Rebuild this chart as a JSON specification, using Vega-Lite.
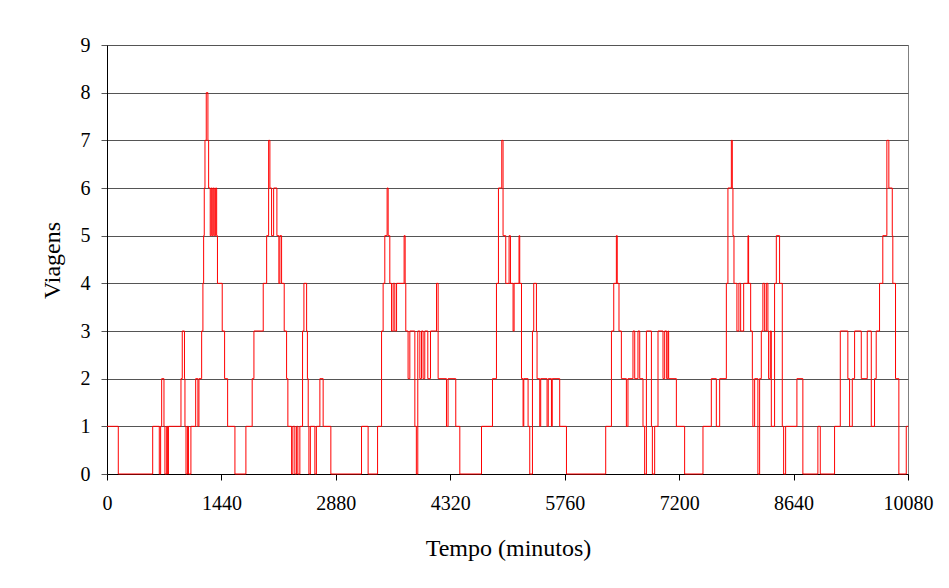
{
  "$schema": "https://vega.github.io/schema/vega-lite/v6.json",
  "autosize": "none",
  "width": 801,
  "height": 429,
  "padding": {"left": 107, "top": 45, "right": 41, "bottom": 114},
  "background": "white",
  "config": {
    "view": {"stroke": "#808080", "strokeWidth": 1},
    "axis": {
      "labelFont": "Liberation Serif",
      "titleFont": "Liberation Serif",
      "labelFontSize": 20,
      "titleFontSize": 24,
      "titleFontWeight": "normal",
      "labelColor": "black",
      "titleColor": "black",
      "domainColor": "black",
      "tickSize": 6
    }
  },
  "data": {
    "values": [
      {"t": 0, "v": 1}, {"t": 142, "v": 0}, {"t": 575, "v": 1}, {"t": 658, "v": 0}, {"t": 675, "v": 1},
      {"t": 688, "v": 2}, {"t": 717, "v": 1}, {"t": 729, "v": 0}, {"t": 751, "v": 1}, {"t": 763, "v": 0},
      {"t": 773, "v": 1}, {"t": 931, "v": 2}, {"t": 947, "v": 3}, {"t": 975, "v": 2}, {"t": 981, "v": 1},
      {"t": 994, "v": 0}, {"t": 1012, "v": 1}, {"t": 1025, "v": 0}, {"t": 1056, "v": 1}, {"t": 1116, "v": 2},
      {"t": 1144, "v": 1}, {"t": 1157, "v": 2}, {"t": 1191, "v": 3}, {"t": 1207, "v": 4}, {"t": 1216, "v": 5},
      {"t": 1224, "v": 6}, {"t": 1233, "v": 7}, {"t": 1249, "v": 8}, {"t": 1270, "v": 7}, {"t": 1279, "v": 6},
      {"t": 1299, "v": 5}, {"t": 1312, "v": 6}, {"t": 1324, "v": 5}, {"t": 1337, "v": 6}, {"t": 1350, "v": 5},
      {"t": 1367, "v": 6}, {"t": 1380, "v": 5}, {"t": 1390, "v": 4}, {"t": 1450, "v": 3}, {"t": 1480, "v": 2},
      {"t": 1518, "v": 1}, {"t": 1610, "v": 0}, {"t": 1748, "v": 1}, {"t": 1827, "v": 2}, {"t": 1849, "v": 3},
      {"t": 1966, "v": 4}, {"t": 2009, "v": 5}, {"t": 2034, "v": 7}, {"t": 2050, "v": 6}, {"t": 2071, "v": 5},
      {"t": 2097, "v": 6}, {"t": 2138, "v": 5}, {"t": 2163, "v": 4}, {"t": 2176, "v": 5}, {"t": 2197, "v": 4},
      {"t": 2230, "v": 3}, {"t": 2260, "v": 2}, {"t": 2276, "v": 1}, {"t": 2323, "v": 0}, {"t": 2339, "v": 1},
      {"t": 2364, "v": 0}, {"t": 2386, "v": 1}, {"t": 2402, "v": 0}, {"t": 2427, "v": 1}, {"t": 2461, "v": 3},
      {"t": 2478, "v": 4}, {"t": 2512, "v": 3}, {"t": 2522, "v": 2}, {"t": 2532, "v": 1}, {"t": 2541, "v": 0},
      {"t": 2559, "v": 1}, {"t": 2616, "v": 0}, {"t": 2635, "v": 1}, {"t": 2679, "v": 2}, {"t": 2720, "v": 1},
      {"t": 2817, "v": 0}, {"t": 3203, "v": 1}, {"t": 3286, "v": 0}, {"t": 3405, "v": 1}, {"t": 3455, "v": 3},
      {"t": 3475, "v": 4}, {"t": 3496, "v": 5}, {"t": 3525, "v": 6}, {"t": 3538, "v": 5}, {"t": 3559, "v": 4},
      {"t": 3581, "v": 3}, {"t": 3601, "v": 4}, {"t": 3622, "v": 3}, {"t": 3644, "v": 4}, {"t": 3739, "v": 5},
      {"t": 3752, "v": 4}, {"t": 3760, "v": 3}, {"t": 3789, "v": 2}, {"t": 3811, "v": 3}, {"t": 3874, "v": 1},
      {"t": 3893, "v": 0}, {"t": 3911, "v": 3}, {"t": 3937, "v": 2}, {"t": 3958, "v": 3}, {"t": 3978, "v": 2},
      {"t": 3999, "v": 3}, {"t": 4037, "v": 2}, {"t": 4071, "v": 3}, {"t": 4147, "v": 4}, {"t": 4167, "v": 2},
      {"t": 4272, "v": 1}, {"t": 4292, "v": 2}, {"t": 4389, "v": 1}, {"t": 4440, "v": 0}, {"t": 4713, "v": 1},
      {"t": 4851, "v": 2}, {"t": 4901, "v": 4}, {"t": 4926, "v": 6}, {"t": 4968, "v": 7}, {"t": 4984, "v": 5},
      {"t": 5018, "v": 4}, {"t": 5060, "v": 5}, {"t": 5077, "v": 4}, {"t": 5110, "v": 3}, {"t": 5123, "v": 4},
      {"t": 5185, "v": 5}, {"t": 5194, "v": 4}, {"t": 5216, "v": 2}, {"t": 5236, "v": 1}, {"t": 5245, "v": 2},
      {"t": 5299, "v": 1}, {"t": 5320, "v": 0}, {"t": 5354, "v": 3}, {"t": 5370, "v": 4}, {"t": 5404, "v": 3},
      {"t": 5412, "v": 2}, {"t": 5446, "v": 1}, {"t": 5458, "v": 2}, {"t": 5538, "v": 1}, {"t": 5553, "v": 2},
      {"t": 5593, "v": 1}, {"t": 5603, "v": 2}, {"t": 5697, "v": 1}, {"t": 5782, "v": 0}, {"t": 6276, "v": 1},
      {"t": 6348, "v": 3}, {"t": 6377, "v": 4}, {"t": 6410, "v": 5}, {"t": 6421, "v": 4}, {"t": 6443, "v": 3},
      {"t": 6473, "v": 2}, {"t": 6536, "v": 1}, {"t": 6556, "v": 2}, {"t": 6619, "v": 3}, {"t": 6641, "v": 2},
      {"t": 6682, "v": 3}, {"t": 6704, "v": 2}, {"t": 6745, "v": 1}, {"t": 6766, "v": 0}, {"t": 6788, "v": 3},
      {"t": 6851, "v": 1}, {"t": 6863, "v": 0}, {"t": 6892, "v": 1}, {"t": 6934, "v": 3}, {"t": 6997, "v": 2},
      {"t": 7018, "v": 3}, {"t": 7043, "v": 2}, {"t": 7059, "v": 3}, {"t": 7068, "v": 2}, {"t": 7165, "v": 1},
      {"t": 7269, "v": 0}, {"t": 7500, "v": 1}, {"t": 7605, "v": 2}, {"t": 7668, "v": 1}, {"t": 7710, "v": 2},
      {"t": 7794, "v": 4}, {"t": 7814, "v": 6}, {"t": 7857, "v": 7}, {"t": 7869, "v": 6}, {"t": 7877, "v": 5},
      {"t": 7890, "v": 4}, {"t": 7927, "v": 3}, {"t": 7952, "v": 4}, {"t": 7974, "v": 3}, {"t": 8012, "v": 4},
      {"t": 8066, "v": 5}, {"t": 8074, "v": 4}, {"t": 8100, "v": 3}, {"t": 8121, "v": 2}, {"t": 8128, "v": 1},
      {"t": 8150, "v": 2}, {"t": 8191, "v": 0}, {"t": 8213, "v": 2}, {"t": 8234, "v": 3}, {"t": 8254, "v": 4},
      {"t": 8276, "v": 3}, {"t": 8297, "v": 4}, {"t": 8317, "v": 3}, {"t": 8326, "v": 2}, {"t": 8347, "v": 3},
      {"t": 8360, "v": 1}, {"t": 8401, "v": 4}, {"t": 8423, "v": 5}, {"t": 8464, "v": 4}, {"t": 8498, "v": 1},
      {"t": 8515, "v": 0}, {"t": 8540, "v": 1}, {"t": 8682, "v": 2}, {"t": 8757, "v": 0}, {"t": 8946, "v": 1},
      {"t": 8976, "v": 0}, {"t": 9156, "v": 1}, {"t": 9228, "v": 3}, {"t": 9323, "v": 2}, {"t": 9345, "v": 1},
      {"t": 9379, "v": 2}, {"t": 9408, "v": 3}, {"t": 9492, "v": 2}, {"t": 9567, "v": 3}, {"t": 9618, "v": 1},
      {"t": 9659, "v": 2}, {"t": 9680, "v": 3}, {"t": 9722, "v": 4}, {"t": 9763, "v": 5}, {"t": 9814, "v": 7},
      {"t": 9839, "v": 6}, {"t": 9882, "v": 5}, {"t": 9889, "v": 4}, {"t": 9923, "v": 2}, {"t": 9965, "v": 0},
      {"t": 10058, "v": 1}, {"t": 10080, "v": 1}
    ]
  },
  "mark": {"type": "line", "interpolate": "step-after", "color": "#ff0000", "strokeWidth": 1},
  "encoding": {
    "x": {
      "field": "t",
      "type": "quantitative",
      "scale": {"domain": [0, 10080], "nice": false, "zero": true},
      "axis": {
        "values": [0, 1440, 2880, 4320, 5760, 7200, 8640, 10080],
        "format": "d",
        "grid": false,
        "tickColor": "black",
        "labelPadding": 13,
        "labelFlush": false,
        "labelOverlap": false,
        "title": "Tempo (minutos)",
        "titleX": 401,
        "titleY": 81,
        "titleAlign": "center",
        "titleBaseline": "alphabetic"
      }
    },
    "y": {
      "field": "v",
      "type": "quantitative",
      "scale": {"domain": [0, 9], "nice": false},
      "axis": {
        "values": [0, 1, 2, 3, 4, 5, 6, 7, 8, 9],
        "format": "d",
        "grid": true,
        "gridColor": "#555555",
        "gridWidth": 1,
        "gridOpacity": 1,
        "tickColor": "#555555",
        "labelPadding": 11,
        "labelFlush": false,
        "labelOverlap": false,
        "title": "Viagens",
        "titleX": -48,
        "titleY": 215,
        "titleAngle": -90,
        "titleAlign": "center",
        "titleBaseline": "alphabetic"
      }
    }
  }
}
